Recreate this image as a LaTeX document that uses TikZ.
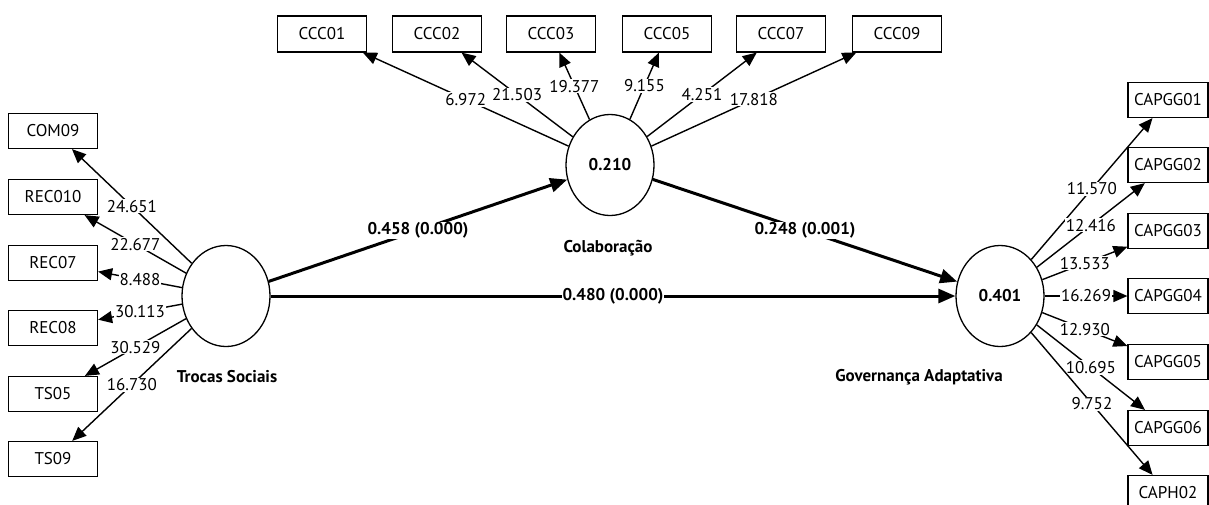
\documentclass[tikz,border=0pt]{standalone}
\usepackage{fontspec}
\setmainfont{PT Sans}
\usetikzlibrary{shapes.geometric,arrows.meta}

\begin{document}
\begin{tikzpicture}[
    x=1pt, y=-1pt,
    font=\fontsize{17}{20}\selectfont,
    lv/.style={ellipse, draw=black, line width=1.3pt, fill=white,
               minimum width=88pt, minimum height=101pt, inner sep=0pt,
               font=\fontsize{17}{20}\selectfont\bfseries},
    ind/.style={rectangle, draw=black, line width=1.2pt, fill=white,
                minimum width=89pt, minimum height=35pt, inner sep=0pt},
    indr/.style={ind, minimum width=80pt},
    load/.style={black, line width=1.4pt, -{Triangle[length=14pt,width=12pt]}},
    struct/.style={black, line width=3pt, -{Triangle[length=17pt,width=14pt]}},
    lab/.style={pos=0.5, fill=white, inner sep=1pt},
    blab/.style={lab, font=\fontsize{17}{20}\selectfont\bfseries},
    lvname/.style={font=\fontsize{17}{20}\selectfont\bfseries},
]
\useasboundingbox (0,0) rectangle (1209,504);

% ---- latent variables ----
\node[lv] (troc) at (226,296) {};
\node[lv] (colab) at (610,165) {0.210};
\node[lv] (gov) at (1000,296) {0.401};
\node[lvname] (trocname) at (227,377) {Trocas Sociais};
\node[lvname] (colabname) at (608,248) {Colaboração};
\node[lvname] (govname) at (919,377) {Governança Adaptativa};

% ---- structural paths ----
\draw[struct] (troc) -- (colab) node[blab] {0.458 (0.000)};
\draw[struct] (colab) -- (gov) node[blab] {0.248 (0.001)};
\draw[struct] (troc) -- (gov) node[blab] {0.480 (0.000)};

% ---- Trocas Sociais indicators ----
\foreach \nm/\y/\v in {COM09/131/24.651, REC010/197/22.677, REC07/263/8.488,
                       REC08/328/30.113, TS05/394/30.529, TS09/459/16.730} {
    \node[ind] (\nm) at (53,\y) {\nm};
    \draw[load] (troc) -- (\nm) node[lab] {\v};
}

% ---- Colaboração indicators ----
\foreach \nm/\x/\v in {CCC01/322/6.972, CCC02/437/21.503, CCC03/551/19.377,
                       CCC05/667/9.155, CCC07/781/4.251, CCC09/897/17.818} {
    \node[ind, minimum height=36pt] (\nm) at (\x,34) {\nm};
    \draw[load] (colab) -- (\nm) node[lab] {\v};
}

% ---- Governança Adaptativa indicators ----
\foreach \nm/\y/\v in {CAPGG01/100/11.570, CAPGG02/165/12.416, CAPGG03/231/13.533,
                       CAPGG04/296/16.269, CAPGG05/362/12.930, CAPGG06/428/10.695,
                       CAPH02/493/9.752} {
    \node[indr] (\nm) at (1168,\y) {\nm};
    \draw[load] (gov) -- (\nm) node[lab] {\v};
}
\end{tikzpicture}
\end{document}
